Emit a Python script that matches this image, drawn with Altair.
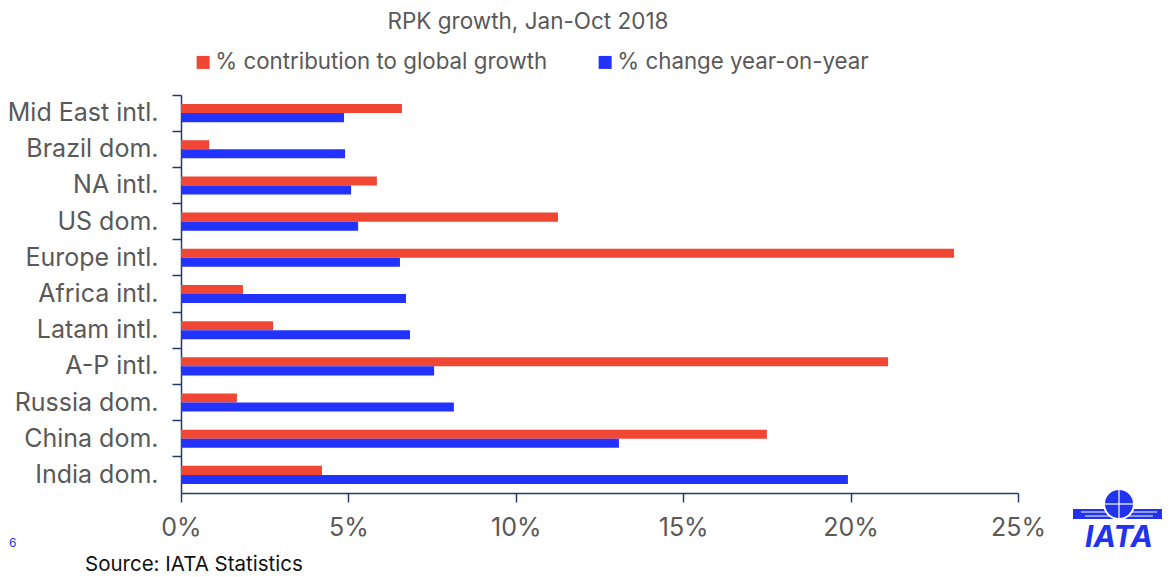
import altair as alt
import pandas as pd

FONT = "Inter"
NAVY = "#22396B"
GRAY = "#595959"
LOGO = "#2233EE"

categories = ["Mid East intl.", "Brazil dom.", "NA intl.", "US dom.", "Europe intl.",
              "Africa intl.", "Latam intl.", "A-P intl.", "Russia dom.", "China dom.", "India dom."]
contribution = [6.6, 0.84, 5.85, 11.26, 23.09, 1.85, 2.75, 21.12, 1.67, 17.5, 4.21]
yoy_change = [4.87, 4.9, 5.08, 5.29, 6.54, 6.72, 6.84, 7.56, 8.15, 13.08, 19.92]
series = ["% contribution to global growth", "% change year-on-year"]
colors = ["#F04634", "#2233FF"]
x_ticks = [0, 5, 10, 15, 20, 25]

rows = []
for c, a, b in zip(categories, contribution, yoy_change):
    rows.append({"cat": c, "series": series[0], "value": a})
    rows.append({"cat": c, "series": series[1], "value": b})
df = pd.DataFrame(rows)

bars = alt.Chart(df).mark_bar().encode(
    y=alt.Y("cat:N", sort=categories,
            scale=alt.Scale(paddingInner=0, paddingOuter=0),
            axis=alt.Axis(title=None, bandPosition=0, tickSize=9, tickColor=NAVY,
                          domainColor=NAVY, domainWidth=1.5, tickWidth=1.5,
                          labelFontSize=25, labelColor=GRAY, labelFont=FONT,
                          labelPadding=14, labelLimit=0)),
    yOffset=alt.YOffset("series:N", sort=series,
                        scale=alt.Scale(domain=series, paddingInner=0, paddingOuter=1)),
    x=alt.X("value:Q", scale=alt.Scale(domain=[0, 25], nice=False),
            axis=alt.Axis(values=x_ticks, labelExpr="datum.value + '%'", title=None,
                          grid=False, tickSize=9, tickColor=NAVY, domainColor=NAVY,
                          domainWidth=1.5, tickWidth=1.5, labelFlush=False,
                          labelFontSize=25, labelColor=GRAY, labelFont=FONT,
                          labelPadding=13)),
    color=alt.Color("series:N", scale=alt.Scale(domain=series, range=colors),
                    legend=alt.Legend(title=None, orient="none", legendX=11, legendY=-44,
                                      direction="horizontal", symbolType="square",
                                      symbolSize=169, symbolStrokeWidth=0,
                                      labelFontSize=22.3, labelColor=GRAY, labelFont=FONT,
                                      labelLimit=0, columnPadding=46, labelOffset=1)),
)

def txt(t, x, y, size, color, align="left", weight="normal", style="normal", baseline="middle"):
    return alt.Chart(pd.DataFrame({"t": [t]})).mark_text(
        fontSize=size, color=color, align=align, baseline=baseline, font=FONT,
        fontWeight=weight, fontStyle=style
    ).encode(text="t:N", x=alt.value(x), y=alt.value(y))

title = txt("RPK growth, Jan-Oct 2018", 347, -66.5, 22.5, GRAY, align="center", baseline="alphabetic")
page = txt("6", -172, 448, 12, "#2233FF")
source = txt("Source: IATA Statistics", -96, 470, 20.5, "#111111")
logo_text = txt("IATA", 938, 443, 30, LOGO, align="center", weight="bold", style="italic")

one = pd.DataFrame({"a": [0]})
wing = alt.Chart(one).mark_rule(color=LOGO, strokeWidth=10).encode(
    x=alt.value(892), x2=alt.value(984), y=alt.value(419))
stripe1 = alt.Chart(one).mark_rule(color="white", strokeWidth=1.2).encode(
    x=alt.value(900), x2=alt.value(976), y=alt.value(417))
stripe2 = alt.Chart(one).mark_rule(color="white", strokeWidth=1.2).encode(
    x=alt.value(904), x2=alt.value(972), y=alt.value(421))
globe = alt.Chart(one).mark_point(filled=True, color=LOGO, size=900, opacity=1,
                                  stroke="white", strokeWidth=2).encode(
    x=alt.value(938), y=alt.value(409))
meridian = alt.Chart(one).mark_rule(color="white", strokeWidth=1.2).encode(
    x=alt.value(938), y=alt.value(395), y2=alt.value(423))
equator = alt.Chart(one).mark_rule(color="white", strokeWidth=1.2).encode(
    x=alt.value(924), x2=alt.value(952), y=alt.value(409))

chart = alt.layer(bars, title, page, source, wing, stripe1, stripe2, globe,
                  meridian, equator, logo_text).properties(
    width=837, height=398,
    autosize=alt.AutoSizeParams(type="none"),
    padding={"left": 173, "top": 87, "right": 144, "bottom": 90},
).configure_view(stroke=None)

chart.save("out.html", embed_options={"renderer": "svg", "actions": False})
